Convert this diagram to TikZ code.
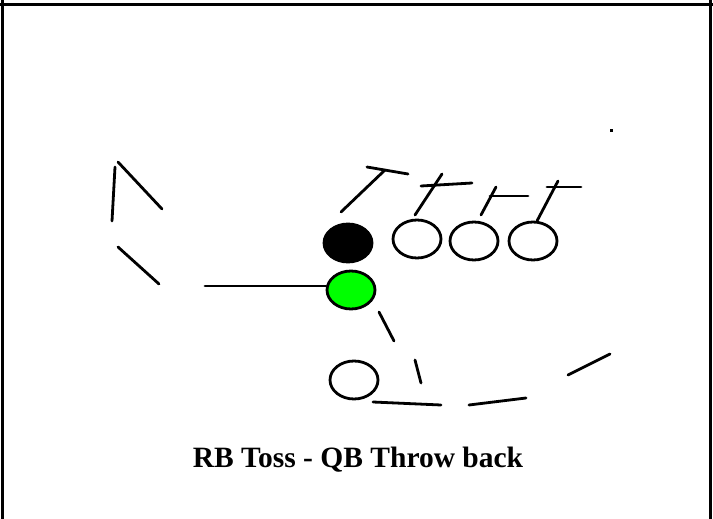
\documentclass[tikz,border=0pt]{standalone}
\usepackage{fontspec}
\setmainfont{Liberation Serif}
\usetikzlibrary{shapes.geometric}
\begin{document}
\begin{tikzpicture}[x=1pt,y=-1pt,
  stroke/.style={line width=2.8pt,line cap=round},
  player/.style={ellipse,draw,line width=2.8pt,minimum width=48pt,minimum height=38pt,inner sep=0pt},
  frameline/.style={line width=2.8pt}]
\useasboundingbox (0,0) rectangle (713,519);
% cell frame
\draw[frameline] (0,4.5) -- (713,4.5);
\draw[frameline] (2.5,0) -- (2.5,519);
\draw[frameline] (710.5,0) -- (710.5,519);

% players
\node[player,fill=black] (c) at (348,243) {};
\node[player] (g1) at (417,239) {};
\node[player] (g2) at (474,241) {};
\node[player] (t1) at (533,241) {};
\node[player,fill=green] (qb) at (351,290) {};
\node[player] (rb) at (354,380) {};

% blocking routes with T bars
\draw[stroke] (341,212) -- (385,170);
\draw[stroke] (367,167) -- (408,174);
\draw[stroke] (415,215) -- (442,174);
\draw[stroke] (421,186) -- (472,183);
\draw[stroke] (481,215) -- (496,187);
\draw[stroke] (490,196) -- (528,196);
\draw[stroke] (537,221) -- (558,181);
\draw[stroke] (547,187) -- (581,187);

% toss line to the QB
\coordinate (tossend) at (205,286);
\draw[stroke] (tossend) -- (qb.west |- tossend);

% left side dashes
\draw[stroke] (115,167) -- (112,221);
\draw[stroke] (118,162) -- (162,209);
\draw[stroke] (118,247) -- (159,284);

% QB route
\draw[stroke] (379,312) -- (394,341);
\draw[stroke] (415,360) -- (421,383);
\draw[stroke] (373,402) -- (441,405);
\draw[stroke] (469,405) -- (526,398);
\draw[stroke] (568,375) -- (610,354);

% stray mark
\fill (609.5,129.5) rectangle (612.5,132.5);

\node[font=\bfseries\fontsize{29.5}{34}\selectfont,anchor=base] (title) at (358,467) {RB Toss - QB Throw back};
\end{tikzpicture}
\end{document}
